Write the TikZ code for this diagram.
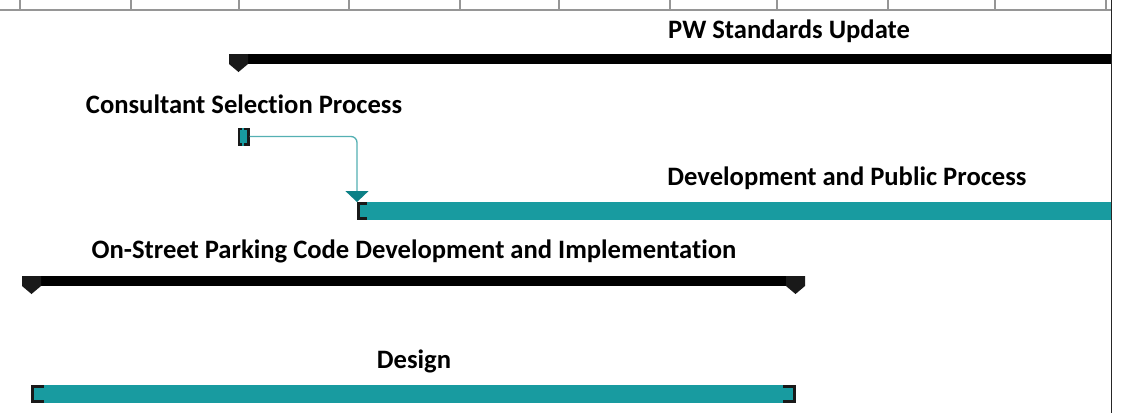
\documentclass[tikz,border=0pt]{standalone}
\usepackage{fontspec}
\setmainfont{Carlito}[Ligatures=NoCommon]
\usepackage{tikz}
\usetikzlibrary{arrows.meta}
\definecolor{barteal}{RGB}{24,155,160}
\definecolor{linkteal}{RGB}{84,176,179}
\definecolor{tipteal}{RGB}{12,128,134}
\definecolor{gridgrey}{RGB}{150,150,150}
\tikzset{
    lbl/.style={font=\fontsize{26.6}{26.6}\selectfont\bfseries, inner sep=0pt},
    gridline/.style={draw=gridgrey, line width=2pt},
    blackbar/.style={fill=black, draw=none},
    tealbar/.style={fill=barteal, draw=none, inner sep=0pt, outer sep=0pt, anchor=north west},
    bracket/.style={draw=black!90, line width=2.6pt, line cap=rect},
    link/.style={draw=linkteal, line width=1.3pt, rounded corners=6pt,
        -{Triangle[width=23pt,length=11pt,color=tipteal]}},
    milestone/.pic={\fill[black!90] (-9.5,0) -- (9.5,0) -- (9.5,10) -- (0,18) -- (-9.5,10) -- cycle;}
}

\begin{document}
\begin{tikzpicture}[x=1pt,y=-1pt]
    \useasboundingbox (0,0) rectangle (1127,413);
    \fill[white] (0,0) rectangle (1127,413);
    \draw[gridline] (0,9.5) -- (1111,9.5);
    \foreach \gx in {20,131,238.5,349,460,559,670,777,888,995,1106}
        \draw[gridline] (\gx,0) -- (\gx,9.5);
    \draw[black!85, line width=1.6pt] (1111.5,0) -- (1111.5,413);

    \node[lbl] (pwlbl) at (789,31) {PW Standards Update};
    \fill[blackbar] (238.5,54) rectangle (1111,64);
    \pic at (238.5,54) {milestone};

    \node[lbl] (conlbl) at (244,104) {Consultant Selection Process};
    \node[tealbar, minimum width=12pt, minimum height=18pt] (consel) at (237.5,127.5) {};
    \draw[bracket] (241,128.8) -- (238.8,128.8) -- (238.8,144.2) -- (241,144.2);
    \draw[bracket] (245.5,128.8) -- (248.2,128.8) -- (248.2,144.2) -- (245.5,144.2);

    \node[lbl] (devlbl) at (847,178) {Development and Public Process};
    \node[tealbar, minimum width=754pt, minimum height=18pt] (devbar) at (357,202) {};
    \draw[bracket] (366,203.3) -- (358.3,203.3) -- (358.3,218.7) -- (366,218.7);
    \draw[link] (consel.east) -| (devbar.north west);

    \node[lbl] (parklbl) at (414,251) {On-Street Parking Code Development and Implementation};
    \fill[blackbar] (31.5,276) rectangle (795.5,285.5);
    \pic at (31.5,276) {milestone};
    \pic at (795.5,276) {milestone};

    \node[lbl] (deslbl) at (414,361) {Design};
    \node[tealbar, minimum width=765pt, minimum height=18pt] (desbar) at (31,385) {};
    \draw[bracket] (43,386.3) -- (32.3,386.3) -- (32.3,401.7) -- (43,401.7);
    \draw[bracket] (784,386.3) -- (794.7,386.3) -- (794.7,401.7) -- (784,401.7);
\end{tikzpicture}
\end{document}
